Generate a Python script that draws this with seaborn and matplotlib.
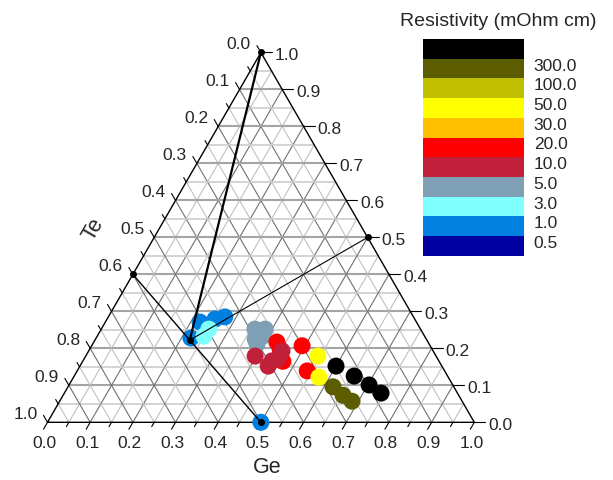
import numpy as np
import pandas as pd
import matplotlib
matplotlib.use("Agg")
import matplotlib.pyplot as plt
import seaborn as sns
from matplotlib.colors import ListedColormap

sns.set_style("white")
plt.rcParams['font.family'] = ['Liberation Sans', 'DejaVu Sans']

# ---------------- data ----------------
# composition fractions (Ge, Te); third component (apex) = 1 - Ge - Te
ge = [0.222, 0.253, 0.273, 0.222, 0.500,
      0.250, 0.252,
      0.360, 0.384, 0.374, 0.388, 0.385,
      0.429, 0.446, 0.469, 0.493, 0.539,
      0.397, 0.443, 0.453, 0.441, 0.455,
      0.544, 0.575,
      0.621, 0.656, 0.685,
      0.600, 0.656, 0.703, 0.742]
te = [0.507, 0.468, 0.442, 0.550, 0.500,
      0.517, 0.496,
      0.388, 0.364, 0.401, 0.379, 0.403,
      0.354, 0.356, 0.366, 0.300, 0.322,
      0.424, 0.391, 0.354, 0.407, 0.374,
      0.277, 0.303,
      0.283, 0.271, 0.258,
      0.248, 0.219, 0.196, 0.179]
rho_class = (['0.5-1'] * 5 + ['1-3'] * 2 + ['3-5'] * 5 + ['10-20'] * 5 +
             ['5-10'] * 5 + ['30-50'] * 2 + ['100-300'] * 3 + ['>300'] * 4)

# colour classes, top to bottom of the colour bar
class_order = ['>300', '100-300', '50-100', '30-50', '20-30', '10-20',
               '5-10', '3-5', '1-3', '0.5-1', '<0.5']
class_colors = ['#000000', '#5c5c00', '#c0c000', '#ffff00', '#ffc000', '#ff0000',
                '#c0203a', '#7f9fb5', '#80ffff', '#0080e0', '#0000a0']
cbar_labels = ['300.0', '100.0', '50.0', '30.0', '20.0', '10.0', '5.0', '3.0', '1.0', '0.5']

# tie lines: first point is the hub, the rest are end points
tie_ge = [2 / 9, 0.0, 0.0, 0.5, 0.5]
tie_te = [5 / 9, 0.0, 0.6, 0.5, 0.0]
tie_lw = [1.6, 1.0, 1.0, 0.8]

tick_vals = [0.0, 0.1, 0.2, 0.3, 0.4, 0.5, 0.6, 0.7, 0.8, 0.9, 1.0]

# ---------------- helpers ----------------
S3 = np.sqrt(3) / 2


def cart(g, t):
    g = np.asarray(g, float)
    t = np.asarray(t, float)
    c = 1 - g - t
    return g + c / 2, c * S3


PX = 1 / 426.8  # data units per pixel

fig = plt.figure(figsize=(6.13, 4.81), dpi=100)
ax = fig.add_axes([0, 0, 1, 1])
ax.set_xlim(-0.1113, 1.3250)
ax.set_ylim(-0.1351, 0.9913)
ax.axis('off')

# grid
for k in range(1, 20):
    v = k * 0.05
    major = (k % 2 == 0)
    # constant apex fraction (horizontal)
    x0, y0 = cart(0, 1 - v)
    x1, y1 = cart(1 - v, 0)
    ax.plot([x0, x1], [y0, y1], color='#a4a4a4' if major else '#cccccc',
            lw=1.5 if major else 1.2, zorder=1)
    # constant Ge
    x0, y0 = cart(v, 1 - v)
    x1, y1 = cart(v, 0)
    ax.plot([x0, x1], [y0, y1], color='#707070' if major else '#c0c0c0',
            lw=0.8, zorder=1)
    # constant Te
    x0, y0 = cart(1 - v, v)
    x1, y1 = cart(0, v)
    ax.plot([x0, x1], [y0, y1], color='#707070' if major else '#c0c0c0',
            lw=0.8, zorder=1)

# triangle border
bx, by = cart([0, 1, 0, 0], [1, 0, 0, 1])
ax.plot(bx, by, color='black', lw=1.0, zorder=2)

# ticks
for k in range(0, 21):
    v = k * 0.05
    major = (k % 2 == 0)
    L = (8 if major else 5) * PX
    # bottom (Ge)
    x, y = cart(v, 1 - v)
    ax.plot([x, x - 0.5 * L], [y, y - S3 * L], color='black', lw=0.8, zorder=2)
    # left (Te)
    x, y = cart(0, v)
    ax.plot([x, x - 0.5 * L], [y, y + S3 * L], color='black', lw=0.8, zorder=2)
    # right (apex)
    if major:
        x, y = cart(1 - v, 0)
        ax.plot([x, x + 11 * PX], [y, y], color='black', lw=0.8, zorder=2)

# tick labels
for v in tick_vals:
    lab = f"{v:.1f}"
    x, y = cart(v, 1 - v)
    ax.annotate(lab, (x, y), xytext=(-3, -20), textcoords='offset pixels',
                ha='center', va='center', fontsize=12.5)
    x, y = cart(0, v)
    ax.annotate(lab, (x, y), xytext=(-10, 9), textcoords='offset pixels',
                ha='right', va='center', fontsize=12.5)
    x, y = cart(1 - v, 0)
    ax.annotate(lab, (x, y), xytext=(14, -2), textcoords='offset pixels',
                ha='left', va='center', fontsize=12.5)

# axis titles
x, y = cart(0, 0.5)
ax.annotate('Te', (x, y), xytext=(-61, 9), textcoords='offset pixels',
            ha='center', va='center', fontsize=15.5, rotation=60)
x, y = cart(0.5, 0.5)
ax.annotate('Ge', (x, y), xytext=(6, -44), textcoords='offset pixels',
            ha='center', va='center', fontsize=15.5)

# data points
X, Y = cart(ge, te)
df = pd.DataFrame({'X': X, 'Y': Y, 'rho': rho_class})
palette = dict(zip(class_order, class_colors))
sns.scatterplot(data=df, x='X', y='Y', hue='rho', palette=palette, s=150,
                linewidth=0, legend=False, ax=ax, zorder=3)
ax.set_xlabel('')
ax.set_ylabel('')

# tie lines
tx, ty = cart(tie_ge, tie_te)
for i in range(1, len(tx)):
    ax.plot([tx[0], tx[i]], [ty[0], ty[i]], color='black', lw=tie_lw[i - 1], zorder=4)
ax.plot(tx, ty, 'o', color='black', ms=4, zorder=5, linestyle='none')

# colour bar
cax = fig.add_axes([423.3 / 613, (481 - 256.7) / 481, 100.7 / 613, 216.7 / 481])
sns.heatmap(np.arange(len(class_order)).reshape(-1, 1),
            cmap=ListedColormap(class_colors), vmin=-0.5, vmax=len(class_order) - 0.5,
            cbar=False, ax=cax, xticklabels=False, yticklabels=False)
cax.set_yticks(np.arange(1, len(class_order)) + 0.25)
cax.set_yticklabels(cbar_labels, fontsize=12.5)
cax.yaxis.tick_right()
cax.tick_params(axis='y', length=0, pad=7, right=True, left=False,
                labelright=True, labelleft=False)
cax.tick_params(axis='x', length=0)
fig.text(498.7 / 613, 1 - 21.7 / 481, 'Resistivity (mOhm cm)', ha='center',
         va='center', fontsize=14)

fig.savefig('out.png', dpi=100)
